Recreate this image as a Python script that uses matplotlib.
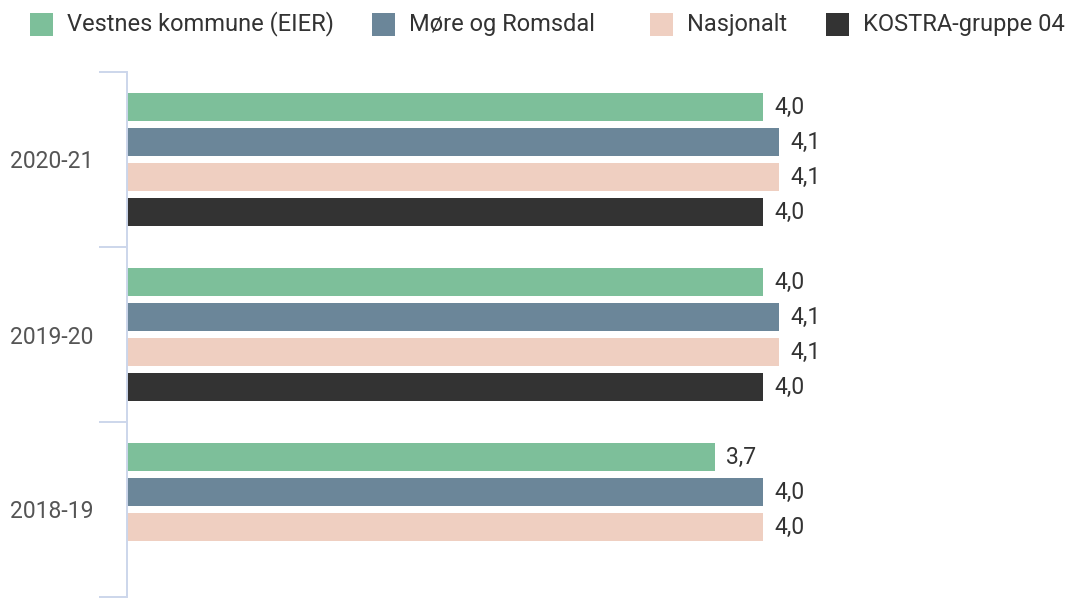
import matplotlib.pyplot as plt
from matplotlib.patches import Rectangle

plt.rcParams['font.family'] = ['Roboto', 'DejaVu Sans']

# data
categories = ['2018-19', '2019-20', '2020-21']
series_names = ['Vestnes kommune (EIER)', 'Møre og Romsdal', 'Nasjonalt', 'KOSTRA-gruppe 04']
vestnes = [3.7, 4.0, 4.0]
more_romsdal = [4.0, 4.1, 4.1]
nasjonalt = [4.0, 4.1, 4.1]
kostra = [None, 4.0, 4.0]
colors = ['#7dbf9a', '#6b8699', '#efcfc1', '#333333']

W, H = 1086, 599
fig = plt.figure(figsize=(W / 100, H / 100), dpi=100)
ax = fig.add_axes([127 / W, 2 / H, 954 / W, 525 / H])

all_series = [vestnes, more_romsdal, nasjonalt, kostra]
for i, (vals, col) in enumerate(zip(all_series, colors)):
    ys, xs = [], []
    for c, v in enumerate(vals):
        if v is None:
            continue
        ys.append(c + (1.5 - i) * 0.2)
        xs.append(v)
    bars = ax.barh(ys, xs, height=0.155, color=col)
    ax.bar_label(bars, labels=[f'{v:.1f}'.replace('.', ',') for v in xs],
                 padding=8, fontsize=16.5, color='#333333')

ax.set_xlim(0, 6)
ax.set_ylim(-0.5, 2.5)
for s in ['top', 'right', 'bottom']:
    ax.spines[s].set_visible(False)
ax.spines['left'].set_color('#ccd6eb')
ax.spines['left'].set_linewidth(1.4)
ax.set_xticks([])
ax.set_yticks(range(len(categories)))
ax.set_yticklabels(categories, fontsize=16.5, color='#555555')
ax.set_yticks([-0.5, 0.5, 1.5, 2.5], minor=True)
ax.tick_params(axis='y', which='major', length=0, pad=24)
ax.tick_params(axis='y', which='minor', length=20, width=1.4, color='#ccd6eb')

# legend laid out by hand, like the source chart
legend_x = [30, 372, 650, 826]
for x0, name, col in zip(legend_x, series_names, colors):
    fig.patches.append(Rectangle((x0 / W, 1 - 36 / H), 23 / W, 23 / H,
                                 transform=fig.transFigure, facecolor=col,
                                 edgecolor='none'))
    fig.text((x0 + 37) / W, 1 - 24 / H, name, fontsize=17, color='#333333',
             va='center', ha='left')

fig.savefig('out.png', dpi=100)
